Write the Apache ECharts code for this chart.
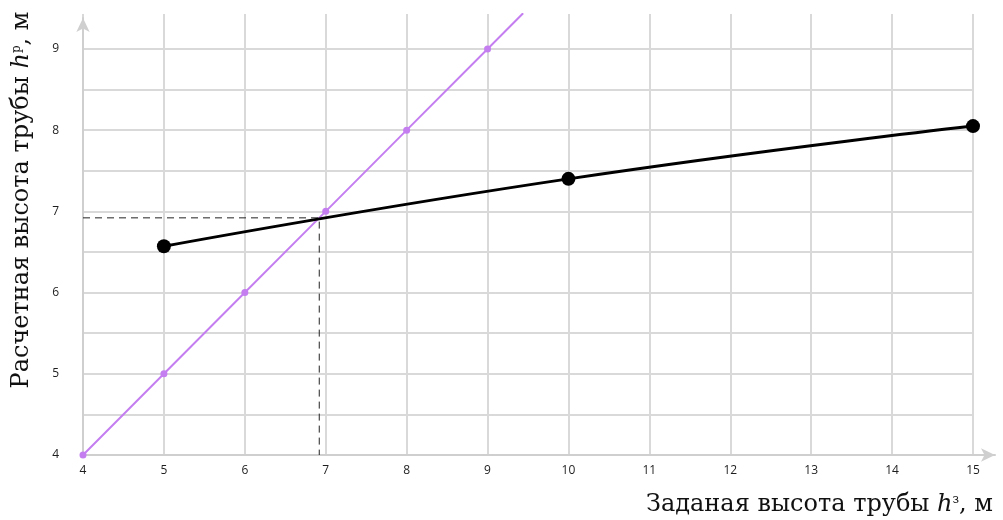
<!DOCTYPE html>
<html>
<head>
<meta charset="utf-8">
<script src="https://cdn.jsdelivr.net/npm/echarts@6/dist/echarts.min.js"></script>
<style>html,body{margin:0;padding:0;background:#fff}#c{width:1003px;height:520px}</style>
</head>
<body>
<div id="c"></div>
<script>
// ---- data ----
const lineX = [4, 5, 6, 7, 8, 9, 9.44];       // purple line h_p = h_з
const lineY = [4, 5, 6, 7, 8, 9, 9.44];
const calcX = [5, 10, 15];                      // calculated height curve
const calcY = [6.57, 7.40, 8.05];
const crossX = 6.92;                            // intersection
const crossY = 6.92;
const xTitle = 'Заданая высота трубы ';
const yTitle = 'Расчетная высота трубы ';

const purple = lineX.map((x, i) => [x, lineY[i]]);
const calc = calcX.map((x, i) => [x, calcY[i]]);
const dashed = [[4, crossY], [crossX, crossY], [crossX, 4]];

const chart = echarts.init(document.getElementById('c'));
const gridColor = '#d9d9d9';
const labelFont = {fontFamily: 'Open Sans', fontSize: 12, color: '#1e1e1e'};
const serif = 'DejaVu Serif';

chart.setOption({
  animation: false,
  grid: [
    {left: 83, right: 30, top: 14, bottom: 65},
    {left: 83, right: 8, top: 18, bottom: 65}
  ],
  xAxis: [
    {gridIndex: 0, type: 'value', min: 4, max: 15, interval: 1,
     axisLine: {show: false}, axisTick: {show: false},
     splitLine: {show: true, lineStyle: {color: gridColor, width: 2}},
     axisLabel: Object.assign({margin: 10}, labelFont)},
    {gridIndex: 1, type: 'value', min: 0, max: 1,
     axisLine: {show: true, symbol: ['none', 'arrow'], symbolSize: [10, 14],
       lineStyle: {color: '#cfcfcf', width: 2}},
     axisTick: {show: false}, axisLabel: {show: false}, splitLine: {show: false}}
  ],
  yAxis: [
    {gridIndex: 0, type: 'value', min: 4, max: 9.43, interval: 0.5,
     axisLine: {show: false}, axisTick: {show: false},
     splitLine: {show: true, showMaxLine: false, lineStyle: {color: gridColor, width: 2}},
     axisLabel: Object.assign({margin: 24, showMaxLabel: false,
       formatter: v => Number.isInteger(v) ? String(v) : ''}, labelFont)},
    {gridIndex: 1, type: 'value', min: 0, max: 1,
     axisLine: {show: true, symbol: ['none', 'arrow'], symbolSize: [10, 14],
       lineStyle: {color: '#cfcfcf', width: 2}},
     axisTick: {show: false}, axisLabel: {show: false}, splitLine: {show: false}}
  ],
  series: [
    {type: 'line', xAxisIndex: 0, yAxisIndex: 0, data: dashed,
     symbol: 'none', lineStyle: {color: '#222', width: 1, type: [7, 5]}, z: 3},
    {type: 'line', xAxisIndex: 0, yAxisIndex: 0, data: purple,
     symbol: (v) => Number.isInteger(v[0]) ? 'circle' : 'none', symbolSize: 7,
     lineStyle: {color: '#c47ef0', width: 2}, itemStyle: {color: '#c47ef0'}, z: 4},
    {type: 'line', xAxisIndex: 0, yAxisIndex: 0, data: calc, smooth: true,
     symbol: 'circle', symbolSize: 14,
     lineStyle: {color: '#000', width: 3}, itemStyle: {color: '#000'}, z: 5}
  ],
  graphic: [
    {type: 'text', right: 10, bottom: 3, style: {
      text: '{t|' + xTitle + '}{i|h}{s|з}{t|, м}',
      rich: {
        t: {fontFamily: serif, fontSize: 24, fill: '#111'},
        i: {fontFamily: serif, fontStyle: 'italic', fontSize: 24, fill: '#111'},
        s: {fontFamily: serif, fontSize: 12, fill: '#111', padding: [0, 0, 10, 0]}
      }}},
    {type: 'text', x: 22, y: 200, rotation: Math.PI / 2, style: {
      text: '{t|' + yTitle + '}{i|h}{s|р}{t|, м}',
      align: 'center', verticalAlign: 'middle',
      rich: {
        t: {fontFamily: serif, fontSize: 24, fill: '#111'},
        i: {fontFamily: serif, fontStyle: 'italic', fontSize: 24, fill: '#111'},
        s: {fontFamily: serif, fontSize: 12, fill: '#111', padding: [0, 0, 10, 0]}
      }}}
  ]
});
</script>
</body>
</html>
